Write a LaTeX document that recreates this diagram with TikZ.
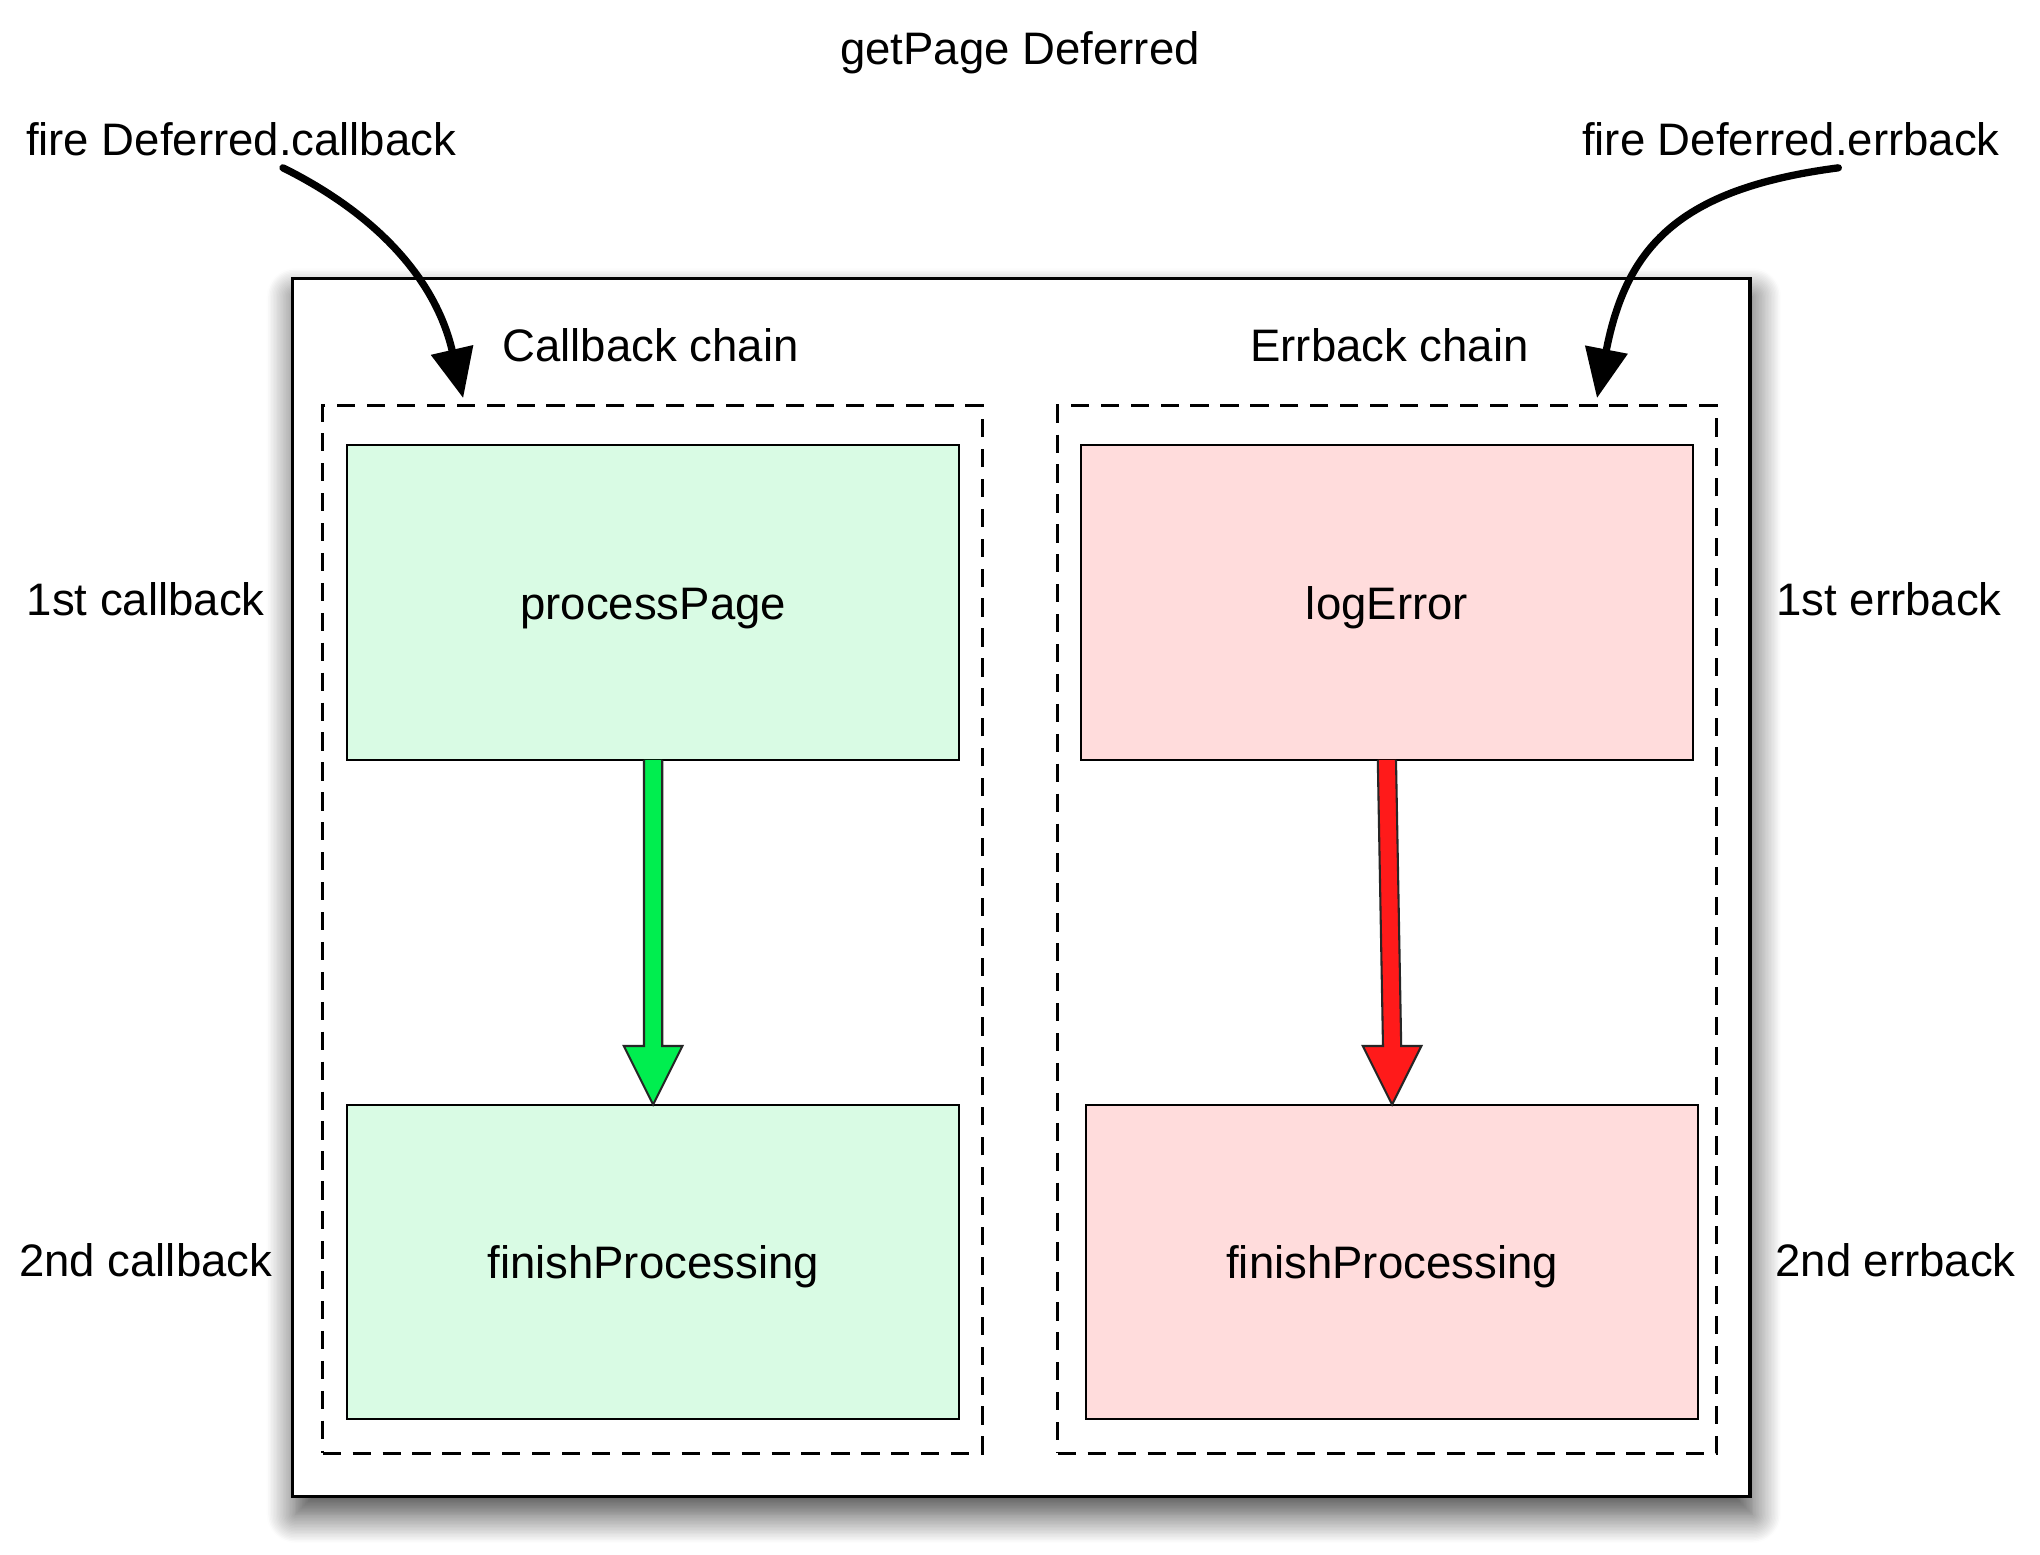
\documentclass[tikz,border=0pt]{standalone}
\usepackage{fontspec}
\setmainfont{Liberation Sans}
\usetikzlibrary{arrows.meta,shadows.blur,calc}
\definecolor{cbfill}{HTML}{D9FBE4}
\definecolor{ebfill}{HTML}{FFDCDC}
\definecolor{cbarrow}{HTML}{00EE4F}
\definecolor{ebarrow}{HTML}{FF1A1A}
\begin{document}
\begin{tikzpicture}[x=0.5pt,y=-0.5pt,
  every node/.style={font=\fontsize{17.5}{20}\selectfont, inner sep=0pt, outer sep=0pt},
  lbl/.style={anchor=base},
  outerbox/.style={draw, line width=1.3pt, fill=white,
    blur shadow={shadow xshift=1pt, shadow yshift=-7pt, shadow blur radius=11pt, shadow blur steps=20, shadow opacity=75}},
  chainbox/.style={draw, dash pattern=on 7pt off 4.5pt, line width=1.1pt},
  stepbox/.style={draw, line width=0.8pt, minimum width=235pt, minimum height=121pt,
    text height=16.7pt, text depth=3.8pt},
  fire/.style={line width=2.8pt, -{Triangle[length=19pt,width=16pt]}},
  blockarrow/.style={draw=black!85, line width=0.8pt, line join=miter}
]
\useasboundingbox (0,0) rectangle (1568,1194.5);

% outer Deferred box
\node[outerbox, minimum width=560pt, minimum height=468pt] (deferred) at (785,682) {};

% chains
\node[chainbox, minimum width=253.5pt, minimum height=402.5pt] (cbchain) at (501.5,714.5) {};
\node[chainbox, minimum width=253.25pt, minimum height=402.5pt] (ebchain) at (1066.25,714.5) {};

% steps
\node[stepbox, fill=cbfill] (pp) at (502,463) {processPage};
\node[stepbox, fill=cbfill] (fp1) at (502,970) {finishProcessing};
\node[stepbox, fill=ebfill] (le) at (1066,463) {logError};
\node[stepbox, fill=ebfill] (fp2) at (1070,970) {finishProcessing};

% block arrows
\draw[blockarrow, fill=cbarrow] ($(pp.south)+(-7,0)$) -- ($(fp1.north)+(-7,-45)$) -- ($(fp1.north)+(-22.5,-45)$) -- (fp1.north) -- ($(fp1.north)+(22.5,-45)$) -- ($(fp1.north)+(7,-45)$) -- ($(pp.south)+(7,0)$);
\draw[blockarrow, fill=ebarrow] ($(le.south)+(-7,0)$) -- ($(fp2.north)+(-7,-45)$) -- ($(fp2.north)+(-22.5,-45)$) -- (fp2.north) -- ($(fp2.north)+(22.5,-45)$) -- ($(fp2.north)+(7,-45)$) -- ($(le.south)+(7,0)$);

% labels
\node[lbl] (title) at (784,49.2) {getPage Deferred};
\node[lbl] (cbtitle) at (500,278) {Callback chain};
\node[lbl] (ebtitle) at (1068,278) {Errback chain};
\node[lbl] (cb1) at (112,472.7) {1st callback};
\node[lbl] (cb2) at (112,981) {2nd callback};
\node[lbl] (eb1) at (1452,473) {1st errback};
\node[lbl] (eb2) at (1457,981) {2nd errback};
\node[lbl, anchor=base west] (firecb) at (20,119.5) {fire Deferred.callback};
\node[lbl, anchor=base east] (fireeb) at (1537,119.5) {fire Deferred.errback};

% fire arrows
\coordinate (cbstart) at (217.5,129);
\coordinate (cbin) at (356,306);
\coordinate (ebstart) at (1413,129);
\coordinate (ebin) at (1227.5,306);
\draw[fire, line cap=round] (cbstart) .. controls (290,165) and (335,215) .. (cbin);
\draw[fire, line cap=round] (ebstart) .. controls (1290,145) and (1250,190) .. (ebin);
\end{tikzpicture}
\end{document}
